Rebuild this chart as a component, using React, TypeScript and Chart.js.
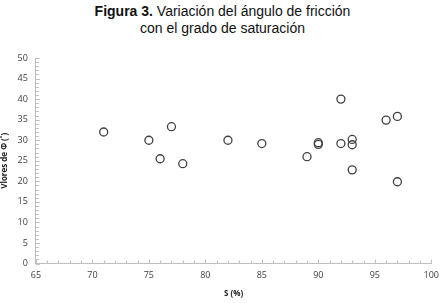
import React, { useEffect, useRef } from "react";
import { Chart, registerables } from "chart.js";

Chart.register(...registerables);

const saturation = [71, 75, 77, 76, 78, 82, 85, 89, 90, 90, 92, 92, 93, 93, 93, 96, 97, 97];
const frictionAngle = [32, 30, 33.3, 25.5, 24.3, 30, 29.2, 26, 29, 29.4, 40, 29.2, 30.2, 28.9, 22.8, 34.9, 35.8, 19.9];
const xTicks = [65, 70, 75, 80, 85, 90, 95, 100];
const yTicks = [0, 5, 10, 15, 20, 25, 30, 35, 40, 45, 50];

const axisColor = "#bfbfbf";

const innerTicks = {
  id: "innerTicks",
  afterDraw(chart: any) {
    const ctx = chart.ctx;
    const xs = chart.scales.x;
    const ys = chart.scales.y;
    const area = chart.chartArea;
    ctx.save();
    ctx.strokeStyle = axisColor;
    ctx.lineWidth = 1;
    ctx.beginPath();
    for (let v = xs.min; v <= xs.max; v += 1) {
      const px = Math.round(xs.getPixelForValue(v)) + 0.5;
      const len = v % 5 === 0 ? 4 : 3;
      ctx.moveTo(px, area.bottom);
      ctx.lineTo(px, area.bottom - len);
    }
    for (let v = ys.min; v <= ys.max; v += 1) {
      const py = Math.round(ys.getPixelForValue(v)) + 0.5;
      const len = v % 5 === 0 ? 4 : 3;
      ctx.moveTo(area.left, py);
      ctx.lineTo(area.left + len, py);
    }
    ctx.stroke();
    ctx.restore();
  },
};

export default function App() {
  const ref = useRef<HTMLCanvasElement | null>(null);
  useEffect(() => {
    if (!ref.current) return;
    const chart = new Chart(ref.current, {
      type: "scatter",
      data: {
        datasets: [
          {
            data: saturation.map((s, i) => ({ x: s, y: frictionAngle[i] })),
            pointRadius: 4,
            pointBorderWidth: 1.3,
            pointBorderColor: "#404040",
            pointBackgroundColor: "rgba(255,255,255,0)",
          },
        ],
      },
      options: {
        animation: false,
        responsive: false,
        layout: { padding: { top: 58, right: 12, left: 0, bottom: 0 } },
        plugins: { legend: { display: false }, tooltip: { enabled: false } },
        scales: {
          x: {
            type: "linear",
            min: 65,
            max: 100,
            afterBuildTicks: (s: any) => {
              s.ticks = xTicks.map((v) => ({ value: v }));
            },
            grid: { display: false, drawTicks: false },
            border: { display: true, color: axisColor, width: 1 },
            ticks: { color: "#404040", font: { family: "Open Sans", size: 9 }, padding: 6 },
            title: {
              display: true,
              text: "S (%)",
              color: "#222",
              font: { family: "Open Sans", size: 8, weight: "bold" },
              padding: { top: 3, bottom: 4 },
            },
          },
          y: {
            type: "linear",
            min: 0,
            max: 50,
            afterBuildTicks: (s: any) => {
              s.ticks = yTicks.map((v) => ({ value: v }));
            },
            grid: { display: false, drawTicks: false },
            border: { display: true, color: axisColor, width: 1 },
            ticks: { color: "#404040", font: { family: "Open Sans", size: 9 }, padding: 8 },
            title: {
              display: true,
              text: "Vlores de Φ (˚)",
              color: "#222",
              font: { family: "Open Sans", size: 8, weight: "bold" },
              padding: { top: 0, bottom: 0 },
            },
          },
        },
      },
      plugins: [innerTicks],
    });
    return () => chart.destroy();
  }, []);

  return (
    <div style={{ position: "fixed", left: 0, top: 0, width: 445, height: 303, background: "#fff" }}>
      <div
        style={{
          position: "absolute",
          left: 0,
          top: 3,
          width: 445,
          textAlign: "center",
          fontFamily: "'Liberation Sans', Arial, sans-serif",
          fontSize: 14,
          lineHeight: "17px",
          color: "#111",
        }}
      >
        <b>Figura 3.</b> Variación del ángulo de fricción
        <br />
        con el grado de saturación
      </div>
      <canvas ref={ref} width={445} height={303} style={{ position: "absolute", left: 0, top: 0 }} />
    </div>
  );
}
